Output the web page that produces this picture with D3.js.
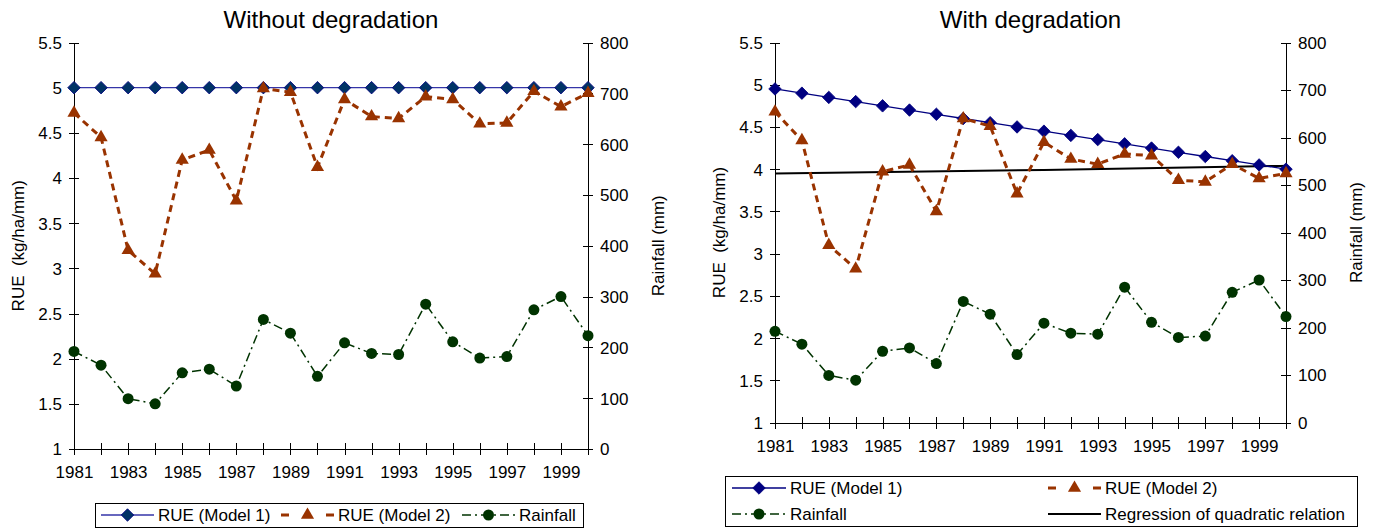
<!DOCTYPE html>
<html lang="en">
<head>
  <meta charset="UTF-8">
  <title>RUE with and without degradation</title>
  <script src="https://d3js.org/d3.v7.min.js"></script>
  <style>
    body { margin: 0; background: #fff; }
    svg { display: block; font-family: "Liberation Sans", Arial, sans-serif; }
    .axis path, .axis line { stroke: #000; stroke-width: 1px; shape-rendering: crispEdges; }
    .axis text { fill: #000; font-size: 17px; font-family: "Liberation Sans", Arial, sans-serif; }
  </style>
</head>
<body>
<svg id="chart" width="1378" height="528"></svg>
<script>
  // --- data ---
  const years = [1981, 1982, 1983, 1984, 1985, 1986, 1987, 1988, 1989, 1990,
                 1991, 1992, 1993, 1994, 1995, 1996, 1997, 1998, 1999, 2000];

  const rainfall = [192, 165, 99, 89, 150, 157, 124, 255, 228, 143,
                    209, 188, 186, 285, 211, 179, 182, 274, 300, 223];

  // without degradation
  const rueModel1NoDeg = [5, 5, 5, 5, 5, 5, 5, 5, 5, 5, 5, 5, 5, 5, 5, 5, 5, 5, 5, 5];
  const rueModel2NoDeg = [4.72, 4.45, 3.2, 2.94, 4.2, 4.31, 3.75, 4.99, 4.95, 4.12,
                          4.87, 4.68, 4.66, 4.9, 4.87, 4.6, 4.61, 4.96, 4.79, 4.94];

  // with degradation
  const rueModel1Deg = [4.95, 4.9, 4.85, 4.8, 4.75, 4.7, 4.65, 4.6, 4.55, 4.5,
                        4.45, 4.4, 4.35, 4.3, 4.25, 4.2, 4.15, 4.1, 4.05, 4.0];
  const rueModel2Deg = [4.68, 4.34, 3.1, 2.82, 3.97, 4.05, 3.5, 4.6, 4.51, 3.71,
                        4.32, 4.12, 4.06, 4.18, 4.16, 3.87, 3.85, 4.06, 3.89, 3.95];

  const regYears = [1981, 1991, 2000];
  const regValues = [3.95, 3.99, 4.04];

  const rueTicks = [1, 1.5, 2, 2.5, 3, 3.5, 4, 4.5, 5, 5.5];
  const rainTicks = [0, 100, 200, 300, 400, 500, 600, 700, 800];
  const yearLabels = [1981, 1983, 1985, 1987, 1989, 1991, 1993, 1995, 1997, 1999];

  const svg = d3.select('#chart');
  const FONT = '"Liberation Sans", Arial, sans-serif';

  const navy = '#000080';
  const brown = '#993300';
  const green = '#003300';

  const diamond = d3.symbol().type(d3.symbolSquare).size(78);
  const triangle = d3.symbol().type(d3.symbolTriangle).size(75);

  function drawPanel(o) {
    const g = svg.append('g');
    const x = d3.scaleLinear().domain([1981, 2000]).range([o.left, o.right]);
    const yL = d3.scaleLinear().domain([1, 5.5]).range([o.bottom, o.top]);
    const yR = d3.scaleLinear().domain([0, 800]).range([o.bottom, o.top]);

    // title
    g.append('text')
      .attr('x', (o.left + o.right) / 2).attr('y', 28)
      .attr('text-anchor', 'middle')
      .style('font-family', FONT).style('font-size', '24px')
      .text(o.title);

    // axes
    const ax = g.append('g').attr('class', 'axis')
      .attr('transform', `translate(0,${o.bottom})`)
      .call(d3.axisBottom(x).tickValues(years).tickSizeOuter(0)
        .tickFormat(d => yearLabels.includes(d) ? d : ''));
    ax.selectAll('.tick line').attr('y1', -6).attr('y2', 6);
    ax.selectAll('.tick text').attr('y', 29).attr('dy', 0);

    const al = g.append('g').attr('class', 'axis')
      .attr('transform', `translate(${o.left},0)`)
      .call(d3.axisLeft(yL).tickValues(rueTicks).tickSizeOuter(0).tickFormat(d => String(d)));
    al.selectAll('.tick line').attr('x1', -5).attr('x2', 5);
    al.selectAll('.tick text').attr('x', -12).attr('dy', '0.35em');

    const ar = g.append('g').attr('class', 'axis')
      .attr('transform', `translate(${o.right},0)`)
      .call(d3.axisRight(yR).tickValues(rainTicks).tickSizeOuter(0).tickFormat(d => String(d)));
    ar.selectAll('.tick line').attr('x1', -5).attr('x2', 5);
    ar.selectAll('.tick text').attr('x', 12).attr('dy', '0.35em');

    // axis titles
    const midY = (o.top + o.bottom) / 2;
    g.append('text')
      .attr('transform', `translate(${o.left - 56},${midY}) rotate(-90)`)
      .attr('text-anchor', 'middle').attr('dy', '0.35em')
      .style('font-family', FONT).style('font-size', '17px')
      .attr('xml:space', 'preserve')
      .text('RUE  (kg/ha/mm)');
    g.append('text')
      .attr('transform', `translate(${o.right + 70},${midY}) rotate(-90)`)
      .attr('text-anchor', 'middle').attr('dy', '0.35em')
      .style('font-family', FONT).style('font-size', '17px')
      .text('Rainfall (mm)');

    // regression line
    if (o.reg) {
      g.append('path')
        .datum(regYears.map((yr, i) => [yr, regValues[i]]))
        .attr('fill', 'none').attr('stroke', '#000').attr('stroke-width', 2)
        .attr('d', d3.line().curve(d3.curveMonotoneX).x(d => x(d[0])).y(d => yL(d[1])));
    }

    // rainfall
    const rain = years.map((yr, i) => [yr, rainfall[i]]);
    g.append('path').datum(rain)
      .attr('fill', 'none').attr('stroke', green).attr('stroke-width', 1.5)
      .attr('stroke-dasharray', '9,4,2,4')
      .attr('d', d3.line().x(d => x(d[0])).y(d => yR(d[1])));
    g.selectAll('.rain').data(rain).enter().append('circle')
      .attr('cx', d => x(d[0])).attr('cy', d => yR(d[1])).attr('r', 5.5)
      .attr('fill', green);

    // model 1
    const m1 = years.map((yr, i) => [yr, o.m1[i]]);
    g.append('path').datum(m1)
      .attr('fill', 'none').attr('stroke', o.m1Line).attr('stroke-width', 1.3)
      .attr('d', d3.line().x(d => x(d[0])).y(d => yL(d[1])));
    g.selectAll('.m1').data(m1).enter().append('path')
      .attr('d', diamond)
      .attr('transform', d => `translate(${x(d[0])},${yL(d[1])}) rotate(45)`)
      .attr('fill', o.m1Fill).attr('stroke', navy).attr('stroke-width', 0.8);

    // model 2
    const m2 = years.map((yr, i) => [yr, o.m2[i]]);
    g.append('path').datum(m2)
      .attr('fill', 'none').attr('stroke', brown).attr('stroke-width', 3)
      .attr('stroke-dasharray', '7,5')
      .attr('d', d3.line().x(d => x(d[0])).y(d => yL(d[1])));
    g.selectAll('.m2').data(m2).enter().append('path')
      .attr('d', triangle)
      .attr('transform', d => `translate(${x(d[0])},${yL(d[1])})`)
      .attr('fill', brown);

    return g;
  }

  // legend helpers
  function legendItem(g, kind, x0, x1, y, label, m1Line, m1Fill) {
    const mid = (x0 + x1) / 2;
    if (kind === 'm1') {
      g.append('line').attr('x1', x0).attr('x2', x1).attr('y1', y).attr('y2', y)
        .attr('stroke', m1Line).attr('stroke-width', 1.3);
      g.append('path').attr('d', diamond)
        .attr('transform', `translate(${mid},${y}) rotate(45)`)
        .attr('fill', m1Fill).attr('stroke', navy).attr('stroke-width', 0.8);
    } else if (kind === 'm2') {
      // one short dash either side of the marker
      [[x0, x0 + 8], [x1 - 8, x1]].forEach(s => {
        g.append('line').attr('x1', s[0]).attr('x2', s[1]).attr('y1', y).attr('y2', y)
          .attr('stroke', brown).attr('stroke-width', 3);
      });
      g.append('path').attr('d', triangle)
        .attr('transform', `translate(${mid},${y})`).attr('fill', brown);
    } else if (kind === 'rain') {
      g.append('line').attr('x1', x0).attr('x2', x1).attr('y1', y).attr('y2', y)
        .attr('stroke', green).attr('stroke-width', 1.5).attr('stroke-dasharray', '9,4,2,4');
      g.append('circle').attr('cx', mid).attr('cy', y).attr('r', 5.5).attr('fill', green);
    } else {
      g.append('line').attr('x1', x0).attr('x2', x1).attr('y1', y).attr('y2', y)
        .attr('stroke', '#000').attr('stroke-width', 2);
    }
    g.append('text').attr('x', x1 + 4).attr('y', y).attr('dy', '0.35em')
      .style('font-family', FONT).style('font-size', '17px')
      .text(label);
  }

  // left panel
  drawPanel({
    title: 'Without degradation',
    left: 74, right: 588, top: 42.5, bottom: 449,
    m1: rueModel1NoDeg, m2: rueModel2NoDeg,
    m1Line: '#3535a8', m1Fill: '#003366', reg: false
  });

  // right panel
  drawPanel({
    title: 'With degradation',
    left: 775, right: 1286, top: 42.5, bottom: 422.5,
    m1: rueModel1Deg, m2: rueModel2Deg,
    m1Line: navy, m1Fill: navy, reg: true
  });

  // left legend
  const lg1 = svg.append('g');
  lg1.append('rect').attr('x', 95.5).attr('y', 503.5).attr('width', 488).attr('height', 24)
    .attr('fill', '#fff').attr('stroke', '#000').attr('stroke-width', 1);
  legendItem(lg1, 'm1', 101, 154, 515, 'RUE (Model 1)', '#3535a8', '#003366');
  legendItem(lg1, 'm2', 281, 334, 515, 'RUE (Model 2)');
  legendItem(lg1, 'rain', 462, 515, 515, 'Rainfall');

  // right legend
  const lg2 = svg.append('g');
  lg2.append('rect').attr('x', 725.5).attr('y', 476.5).attr('width', 632).attr('height', 50)
    .attr('fill', '#fff').attr('stroke', '#000').attr('stroke-width', 1);
  legendItem(lg2, 'm1', 732, 786, 488, 'RUE (Model 1)', navy, navy);
  legendItem(lg2, 'm2', 1048, 1101, 488, 'RUE (Model 2)');
  legendItem(lg2, 'rain', 732, 786, 514, 'Rainfall');
  legendItem(lg2, 'reg', 1048, 1101, 514, 'Regression of quadratic relation');
</script>
</body>
</html>
